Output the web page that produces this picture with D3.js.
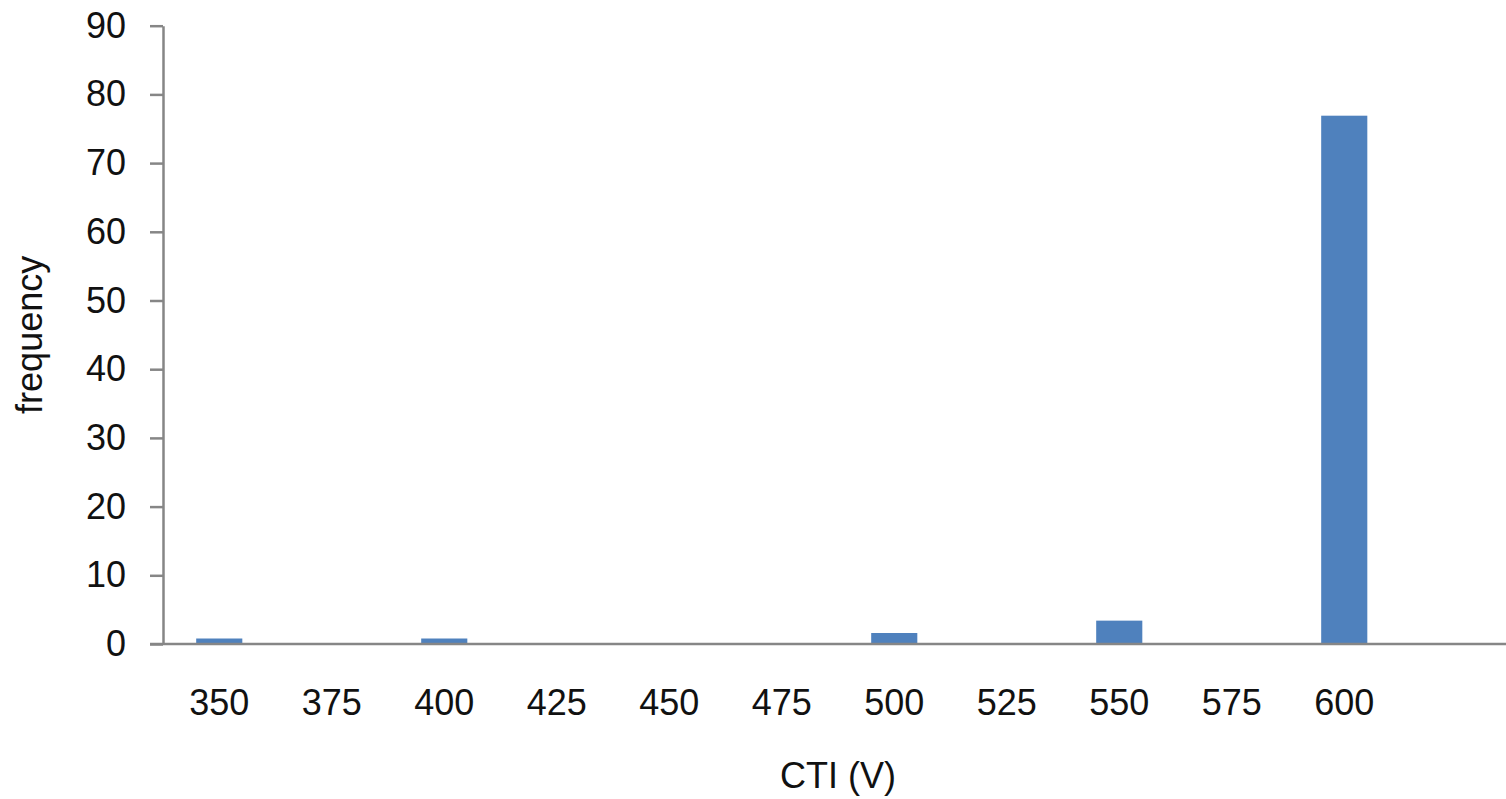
<!DOCTYPE html>
<html>
<head>
<meta charset="utf-8">
<script src="https://cdn.jsdelivr.net/npm/d3@7"></script>
<style>
  html, body { margin: 0; padding: 0; background: #fff; overflow: hidden; }
  text { font-family: "Liberation Sans", Arial, sans-serif; }
</style>
</head>
<body>
<svg id="chart" width="1506" height="799"></svg>
<script>
// Data
const categories = ["350", "375", "400", "425", "450", "475", "500", "525", "550", "575", "600", ""];
const frequency  = [0.8, 0, 0.8, 0, 0, 0, 1.6, 0, 3.4, 0, 76.9, 0];
const yTicks     = [0, 10, 20, 30, 40, 50, 60, 70, 80, 90];
const xTitle = "CTI (V)";
const yTitle = "frequency";

const svg = d3.select("#chart");
const plotLeft = 163, plotRight = 1513, plotTop = 25.7, plotBottom = 644;
const axisColor = "#868686";

const x = d3.scaleBand().domain(categories).range([plotLeft, plotRight])
  .paddingInner(0.59).paddingOuter(0.295);
const y = d3.scaleLinear().domain([0, 90]).range([plotBottom, plotTop]);

// Bars
svg.append("g").selectAll("rect")
  .data(categories.map((c, i) => ({ c, v: frequency[i] })).filter(d => d.v > 0))
  .join("rect")
  .attr("x", d => x(d.c))
  .attr("width", x.bandwidth())
  .attr("y", d => y(d.v))
  .attr("height", d => y(0) - y(d.v))
  .attr("fill", "#4F81BD");

// Y axis
const yAxis = svg.append("g")
  .attr("transform", `translate(${plotLeft},0)`)
  .call(d3.axisLeft(y).tickValues(yTicks).tickSize(13).tickPadding(24).tickSizeOuter(0));
yAxis.select(".domain").attr("stroke", axisColor).attr("stroke-width", 2.5);
yAxis.selectAll(".tick line").attr("stroke", axisColor).attr("stroke-width", 2.5);
yAxis.selectAll(".tick text")
  .attr("font-size", 36).attr("fill", "#111")
  .attr("font-family", "Liberation Sans, Arial, sans-serif");

// X axis
const xAxis = svg.append("g")
  .attr("transform", `translate(0,${plotBottom})`)
  .call(d3.axisBottom(x).tickSize(0).tickPadding(45).tickSizeOuter(0));
xAxis.select(".domain").attr("stroke", axisColor).attr("stroke-width", 2.5)
  .attr("d", `M${plotLeft - 13},0H${plotRight}`);
xAxis.selectAll(".tick text")
  .attr("font-size", 36).attr("fill", "#111")
  .attr("font-family", "Liberation Sans, Arial, sans-serif");

// Titles
svg.append("text")
  .attr("x", (plotLeft + plotRight) / 2)
  .attr("y", 788)
  .attr("text-anchor", "middle")
  .attr("font-size", 36).attr("fill", "#111")
  .text(xTitle);

svg.append("text")
  .attr("transform", `translate(42,${(plotTop + plotBottom) / 2}) rotate(-90)`)
  .attr("text-anchor", "middle")
  .attr("font-size", 36).attr("fill", "#111")
  .text(yTitle);
</script>
</body>
</html>
